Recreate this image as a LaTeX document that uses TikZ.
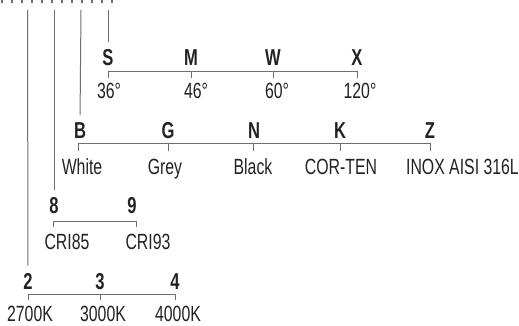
\documentclass[tikz,border=0pt]{standalone}
\usepackage{fontspec}
\setmainfont[FakeStretch=0.72]{Liberation Sans}
\definecolor{ink}{HTML}{222222}
\definecolor{rule}{HTML}{6E6E6E}
\begin{document}
\begin{tikzpicture}[x=1pt,y=-1pt,
code/.style={font=\fontsize{23}{26}\selectfont\bfseries,text=ink,inner sep=0pt,anchor=base},
val/.style={font=\fontsize{22}{26}\selectfont,text=ink,inner sep=0pt,anchor=base},
lead/.style={draw=rule,line width=1pt,shorten >=7pt}]
\useasboundingbox(0,0)rectangle(519,325);
\foreach \x in {2,12,...,112}\fill[rule](\x-1,0)rectangle(\x+1,2.5);
\coordinate(t2)at(27.5,10);\coordinate(t8)at(54,10);\coordinate(tB)at(81,10);\coordinate(tS)at(108,10);
\node[code](S)at(108,65){S};\node[code](M)at(191,65){M};\node[code](W)at(273,65){W};\node[code](X)at(357,65){X};
\node[val](s36)at(109,98){36°};\node[val](s46)at(196,98){46°};\node[val](s60)at(277,98){60°};\node[val](s120)at(360,98){120°};
\node[code](B)at(80,138){B};\node[code](G)at(168,138){G};\node[code](N)at(254,138){N};\node[code](K)at(340,138){K};\node[code](Z)at(430,138){Z};
\node[val](wh)at(82,174){White};\node[val](gr)at(165,174){Grey};\node[val](bl)at(253,174){Black};\node[val](ct)at(341,174){COR-TEN};
\node[val,anchor=base east](ix)at(519,174){INOX AISI 316L};
\node[code](c8)at(54,213){8};\node[code](c9)at(132,213){9};
\node[val](r85)at(67,249){CRI85};\node[val](r93)at(148,249){CRI93};
\node[code](c2)at(28,289){2};\node[code](c3)at(100,289){3};\node[code](c4)at(175,289){4};
\node[val](k27)at(30,321){2700K};\node[val](k30)at(103,321){3000K};\node[val](k40)at(178,321){4000K};
\draw[lead](t2)--(c2.north);\draw[lead](t8)--(c8.north);\draw[lead](tB)--(B.north);\draw[lead](tS)--(S.north);
\draw[rule,line width=1pt](108,78)|-(357,71)--(357,78)(191,71)--(191,78)(273,71)--(273,78);
\draw[rule,line width=1pt](78,151)|-(430,143)--(430,151)(168,143)--(168,151)(253,143)--(253,151)(340,143)--(340,151);
\draw[rule,line width=1pt](53,227)|-(136,221)--(136,227);
\draw[rule,line width=1pt](28,299.5)|-(175,294)--(175,299.5)(100,294)--(100,299.5);
\end{tikzpicture}
\end{document}
